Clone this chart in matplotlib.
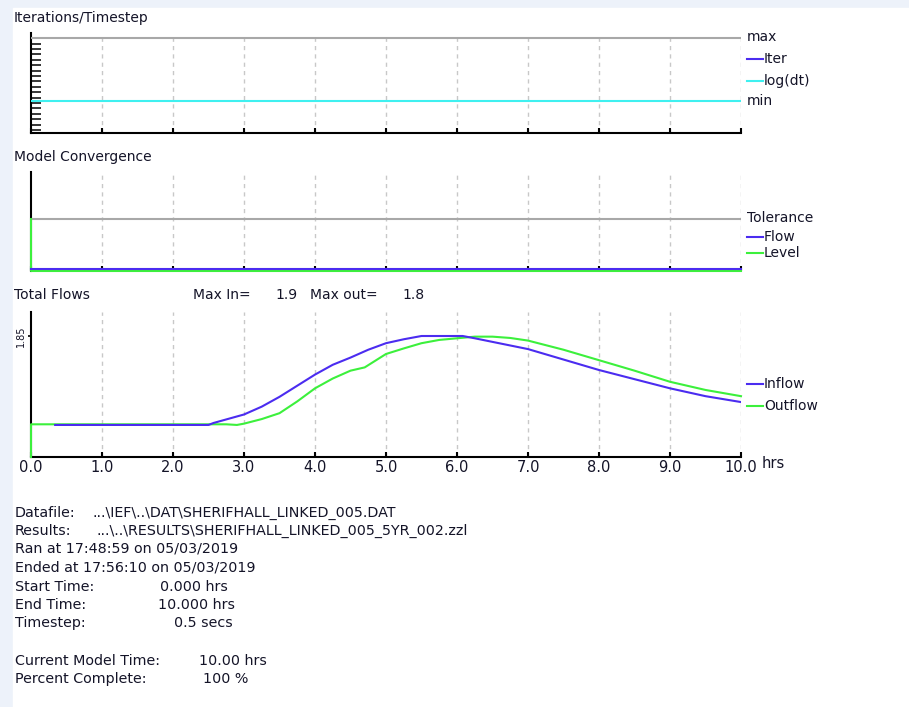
import numpy as np
import matplotlib
matplotlib.use("Agg")
import matplotlib.pyplot as plt
from matplotlib.patches import Rectangle
from matplotlib.lines import Line2D

# ---------------- data ----------------
hours = [0, 1, 2, 3, 4, 5, 6, 7, 8, 9, 10]
hour_labels = ["0.0", "1.0", "2.0", "3.0", "4.0", "5.0", "6.0", "7.0", "8.0", "9.0", "10.0"]

# Iterations/Timestep panel (normalised 0..1 scale)
iter_t = [0, 10]
iter_max = [0.953, 0.953]
logdt = [0.32, 0.32]

# Model Convergence panel (normalised 0..1 scale)
conv_t = [0, 10]
tolerance = [0.525, 0.525]
flow_t = [0, 10]
flow_conv = [0.02, 0.02]
level_t = [0, 0, 10]
level_conv = [0.525, 0.0, 0.0]

# Total Flows panel
inflow_t = [0.34, 2.5, 2.57, 3.0, 3.25, 3.5, 3.75, 4.0, 4.25, 4.5, 4.75, 5.0, 5.25, 5.5,
            5.75, 6.08, 6.25, 6.5, 7.0, 7.5, 8.0, 8.5, 9.0, 9.5, 10.0]
inflow = [0.49, 0.49, 0.52, 0.65, 0.77, 0.92, 1.09, 1.26, 1.41, 1.52, 1.64, 1.74, 1.80, 1.85,
          1.85, 1.85, 1.815, 1.76, 1.65, 1.49, 1.33, 1.19, 1.05, 0.93, 0.84]
outflow_t = [0.0, 0.0, 2.75, 2.9, 3.0, 3.25, 3.5, 3.75, 4.0, 4.25, 4.5, 4.7, 5.0, 5.25, 5.5,
             5.75, 6.0, 6.25, 6.5, 6.75, 7.0, 7.5, 8.0, 8.5, 9.0, 9.5, 10.0]
outflow = [0.0, 0.50, 0.50, 0.49, 0.51, 0.58, 0.67, 0.85, 1.05, 1.20, 1.32, 1.37, 1.575, 1.66,
           1.74, 1.79, 1.815, 1.84, 1.84, 1.82, 1.78, 1.64, 1.48, 1.32, 1.15, 1.025, 0.93]
flow_ytick = [1.85]
flow_ytick_label = ["1.85"]
max_in = "1.9"
max_out = "1.8"

info_labels = ["Datafile:", "Results:", "Ran at 17:48:59 on 05/03/2019",
               "Ended at 17:56:10 on 05/03/2019", "Start Time:", "End Time:", "Timestep:",
               "Current Model Time:", "Percent Complete:"]
info_values = ["...\\IEF\\..\\DAT\\SHERIFHALL_LINKED_005.DAT",
               "...\\..\\RESULTS\\SHERIFHALL_LINKED_005_5YR_002.zzl",
               "", "", "0.000 hrs", "10.000 hrs", "0.5 secs", "10.00 hrs", "100 %"]

# ---------------- style ----------------
W, H = 909, 707
BLUE = "#4b2cf0"
GREEN = "#3cf03c"
CYAN = "#3ff0f0"
GRAYLINE = "#a8a8a8"
GRID = "#c8c8c8"
TXT = "#141428"
FS = 10

plt.rcParams["font.family"] = ["DejaVu Sans"]
fig = plt.figure(figsize=(W / 100, H / 100), dpi=100)
fig.patch.set_facecolor("#edf2fa")

over = fig.add_axes([0, 0, 1, 1], zorder=0)
over.set_xlim(0, W)
over.set_ylim(H, 0)
over.axis("off")
over.add_patch(Rectangle((13, 8), W - 13, H - 8, color="white", zorder=0))


def px_rect(l, t, r, b):
    return [l / W, 1 - b / H, (r - l) / W, (b - t) / H]


def make_panel(t, b, ylim):
    ax = fig.add_axes(px_rect(31, t, 741, b), zorder=2)
    ax.set_facecolor("none")
    ax.set_xlim(0, 10)
    ax.set_ylim(*ylim)
    for s in ["top", "right"]:
        ax.spines[s].set_visible(False)
    ax.spines["left"].set_linewidth(1.5)
    ax.spines["bottom"].set_linewidth(1.5)
    ax.vlines(hours[1:], ylim[0], ylim[1], colors=GRID, linestyles=(0, (3, 3)), lw=1, zorder=1)
    ax.set_xticks(hours)
    ax.tick_params(axis="x", direction="in", length=3.5, width=1.5, colors="black",
                   labelbottom=False)
    return ax


# Panel 1
ax1 = make_panel(33, 133, (0, 1))
ax1.plot(iter_t, iter_max, color=GRAYLINE, lw=1.5, zorder=3)
ax1.plot(iter_t, logdt, color=CYAN, lw=1.5, zorder=3)
ax1.set_yticks(np.linspace(0.03, 0.894, 17))
ax1.tick_params(axis="y", direction="in", length=7, width=1.1, labelleft=False)

# Panel 2
ax2 = make_panel(172, 271, (0, 1))
ax2.spines["bottom"].set_visible(False)
ax2.plot(conv_t, tolerance, color=GRAYLINE, lw=1.5, zorder=3)
ax2.plot(level_t, level_conv, color=GREEN, lw=1.5, zorder=3, clip_on=False)
ax2.plot(flow_t, flow_conv, color=BLUE, lw=1.5, zorder=4, clip_on=False)
ax2.set_yticks([])

# Panel 3
ylim3 = (0, (457 - 312) / 121 * 1.85)
ax3 = make_panel(312, 457, ylim3)
ax3.plot(outflow_t, outflow, color=GREEN, lw=1.5, zorder=3, clip_on=False)
ax3.plot(inflow_t, inflow, color=BLUE, lw=1.5, zorder=4)
ax3.set_yticks(flow_ytick)
ax3.set_yticklabels(flow_ytick_label, rotation=90, va="center", fontsize=7, color=TXT)
ax3.tick_params(axis="y", direction="out", length=2.5, width=1.2, pad=1)
ax3.tick_params(axis="x", labelbottom=True, pad=2, labelsize=10.5, labelcolor=TXT)
ax3.set_xticklabels(hour_labels)

# ---------------- texts ----------------
def txt(x, y, s, **kw):
    over.text(x, y, s, fontsize=kw.pop("fs", FS), color=TXT, va="center", ha=kw.pop("ha", "left"), **kw)


def legline(x, y, c):
    over.add_line(Line2D([x, x + 16], [y, y], color=c, lw=1.5))


txt(14, 18, "Iterations/Timestep")
txt(14, 157, "Model Convergence")
txt(14, 295, "Total Flows")
txt(193, 295, "Max In=")
txt(298, 295, max_in, ha="right")
txt(310, 295, "Max out=")
txt(425, 295, max_out, ha="right")
txt(762, 464, "hrs", fs=10.5)

# legends
txt(747, 37, "max")
legline(747, 59, BLUE); txt(764, 59, "Iter")
legline(747, 81, CYAN); txt(764, 81, "log(dt)")
txt(747, 101, "min")

txt(747, 218, "Tolerance")
legline(747, 237, BLUE); txt(764, 237, "Flow")
legline(747, 253, GREEN); txt(764, 253, "Level")

legline(747, 384, BLUE); txt(764, 384, "Inflow")
legline(747, 406, GREEN); txt(764, 406, "Outflow")

# info block
ys = [512.7, 530.7, 549, 567.7, 586.7, 605, 623.3, 660.7, 679]
xv = [92, 97, 0, 0, 160, 158, 174, 199, 203]
for lab, val, y, x in zip(info_labels, info_values, ys, xv):
    txt(15, y, lab, fs=10.3)
    if val:
        txt(x, y, val, fs=10.3)

fig.savefig("out.png", dpi=100, facecolor=fig.get_facecolor())
